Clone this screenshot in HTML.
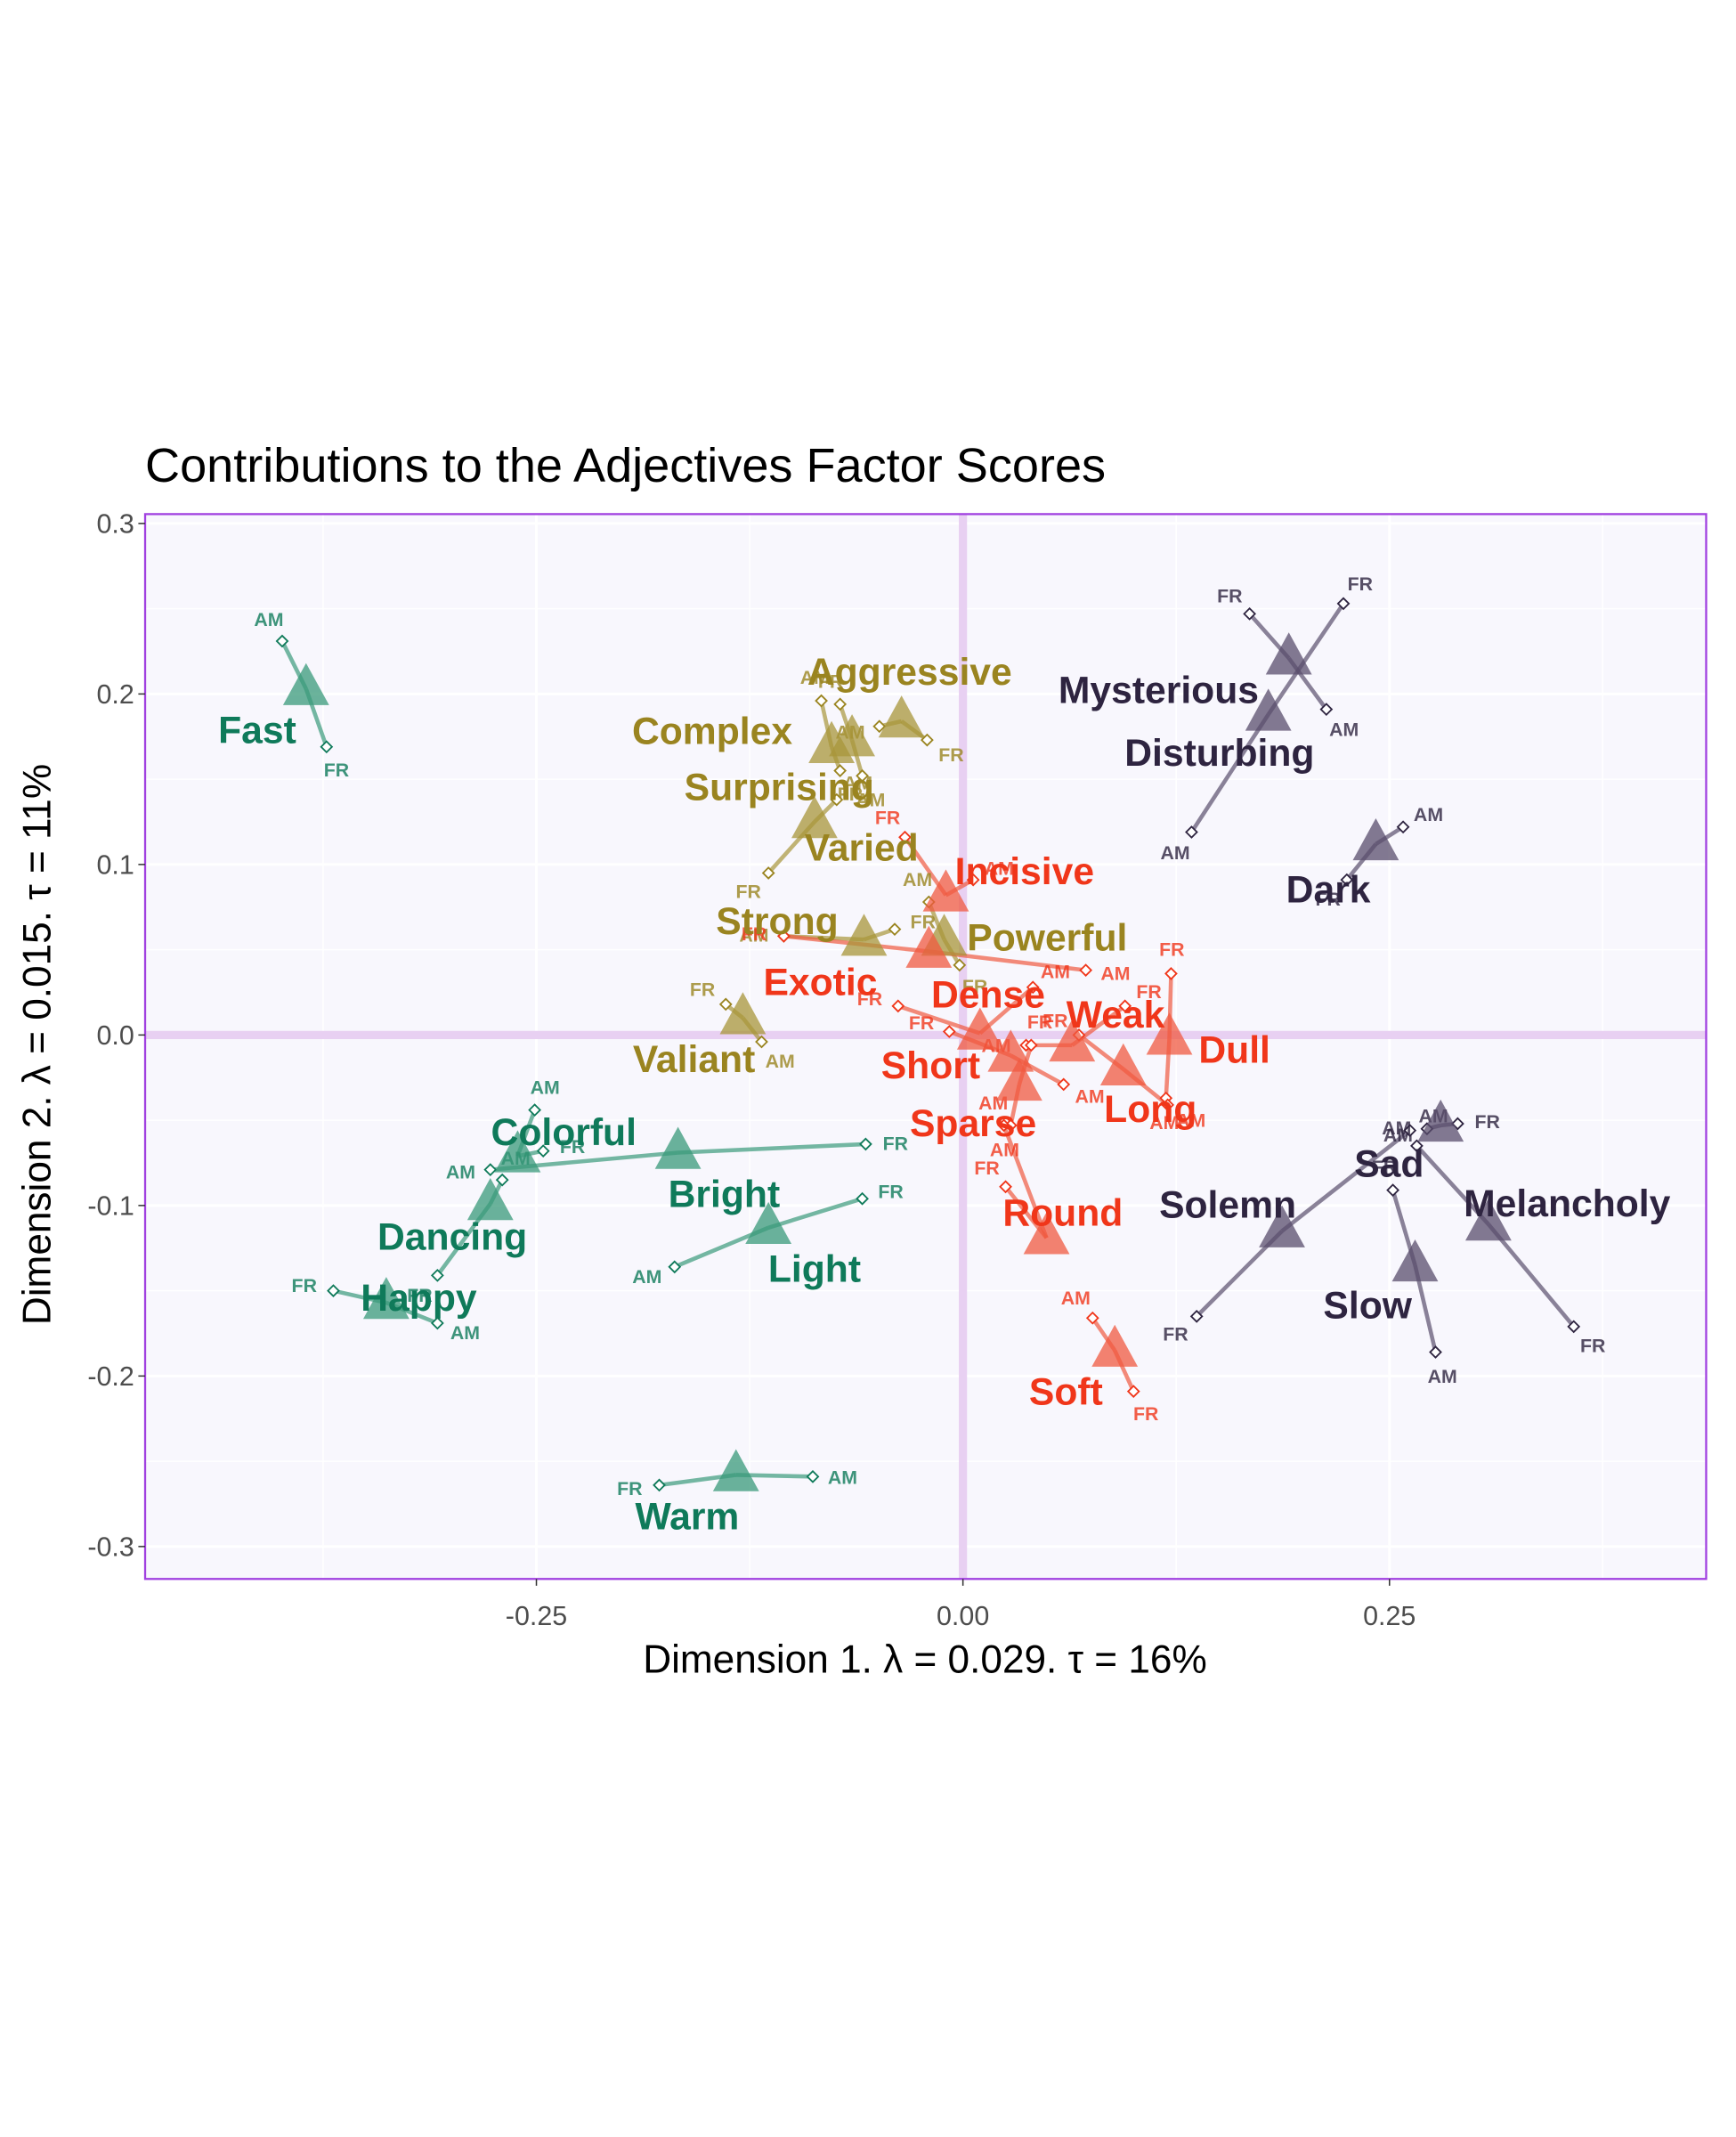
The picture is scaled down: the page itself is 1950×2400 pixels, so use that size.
<!DOCTYPE html>
<html><head><meta charset="utf-8"><style>
html,body{margin:0;padding:0;background:#fff}
svg{display:block}
text{font-family:"Liberation Sans",Arial,sans-serif}
</style></head><body>
<svg id="chart" width="1950" height="2400" viewBox="0 0 1280 1575.4" xmlns="http://www.w3.org/2000/svg">
<rect x="0" y="0" width="1280" height="1575.4" fill="#fff"/>
<text x="107" y="355" font-size="35.5" fill="#000">Contributions to the Adjectives Factor Scores</text>
<rect x="107" y="379" width="1151" height="785" fill="#f8f7fd"/>
<g id="grid"></g>
<g id="zero"></g>
<g id="marks"></g>
<rect x="107" y="379" width="1151" height="785" fill="none" stroke="#a040e0" stroke-width="1.5"/>
<g id="axes"></g>
<text x="682" y="1233" font-size="29" text-anchor="middle" fill="#000">Dimension 1.   λ = 0.029.  τ = 16%</text>
<text transform="translate(37,770) rotate(-90)" font-size="29" text-anchor="middle" fill="#000">Dimension 2.   λ = 0.015.  τ = 11%</text>
</svg>
<script>
const xTicks = [-0.25, 0, 0.25];
const xTickLabels = ["-0.25", "0.00", "0.25"];
const yTicks = [-0.3, -0.2, -0.1, 0, 0.1, 0.2, 0.3];
const yTickLabels = ["-0.3", "-0.2", "-0.1", "0.0", "0.1", "0.2", "0.3"];
const names = ["Fast","Colorful","Bright","Dancing","Happy","Light","Warm",
 "Aggressive","Complex","Surprising","Varied","Strong","Powerful","Valiant",
 "Incisive","Exotic","Dense","Weak","Short","Dull","Long","Sparse","Round","Soft",
 "Mysterious","Disturbing","Dark","Sad","Solemn","Melancholy","Slow"];
const groups = [0,0,0,0,0,0,0, 1,1,1,1,1,1,1, 2,2,2,2,2,2,2,2,2,2, 3,3,3,3,3,3,3];
const meanX = [-0.385,-0.261,-0.167,-0.277,-0.338,-0.114,-0.133,
 -0.036,-0.077,-0.087,-0.065,-0.058,-0.011,-0.129,
 -0.010,-0.020,0.010,0.064,0.028,0.121,0.094,0.033,0.049,0.089,
 0.191,0.179,0.242,0.280,0.187,0.308,0.265];
const meanY = [0.203,-0.071,-0.069,-0.099,-0.157,-0.113,-0.258,
 0.184,0.169,0.125,0.173,0.056,0.056,0.010,
 0.082,0.049,0.001,-0.006,-0.012,-0.002,-0.020,-0.029,-0.119,-0.185,
 0.221,0.188,0.112,-0.053,-0.115,-0.111,-0.135];
const amX = [-0.399,-0.251,-0.277,-0.270,-0.308,-0.169,-0.088,
 -0.049,-0.083,-0.074,-0.059,-0.105,-0.020,-0.118,
 0.006,0.072,0.041,0.037,0.059,0.119,0.120,0.028,0.024,0.076,
 0.213,0.134,0.258,0.272,0.262,0.266,0.277];
const amY = [0.231,-0.044,-0.079,-0.085,-0.169,-0.136,-0.259,
 0.181,0.196,0.138,0.152,0.058,0.078,-0.004,
 0.091,0.038,0.028,-0.006,-0.029,-0.037,-0.041,-0.053,-0.053,-0.166,
 0.191,0.119,0.122,-0.055,-0.056,-0.065,-0.186];
const frX = [-0.373,-0.246,-0.057,-0.308,-0.369,-0.059,-0.178,
 -0.021,-0.072,-0.114,-0.072,-0.040,-0.002,-0.139,
 -0.034,-0.105,-0.038,0.095,-0.008,0.122,0.068,0.040,0.025,0.100,
 0.168,0.223,0.225,0.290,0.137,0.358,0.252];
const frY = [0.169,-0.068,-0.064,-0.141,-0.150,-0.096,-0.264,
 0.173,0.155,0.095,0.194,0.062,0.041,0.018,
 0.116,0.058,0.017,0.017,0.002,0.036,0.000,-0.006,-0.089,-0.209,
 0.247,0.253,0.091,-0.052,-0.165,-0.171,-0.091];
const labelDX = [-36,34,34,-28,24,34,-36, 6,-88,-26,7,-64,76,-36, 58,-80,6,32,-59,48,20,-34,12,-36, -96,-36,-35,-38,-40,58,-35];
const labelDY = [30,-18,30,24,-4,30,30, -37,-12,-26,79,-14,-2,30, -18,22,-29,-23,7,8,29,28,-19,30, 23,28,33,28,-20,-16,29];

const colors = ["#0f7a5a","#9a8420","#f0361a","#2e2440"];
const ptColors = ["#3a9a7a","#a8963a","#f05a40","#5a4e6c"];
const X = v => 710 + v*1258;
const Y = v => 763 - v*1257;
const NS = "http://www.w3.org/2000/svg";
function mk(tag, attrs, parent, txt){const e=document.createElementNS(NS,tag);for(const k in attrs)e.setAttribute(k,attrs[k]);if(txt!==undefined)e.textContent=txt;parent.appendChild(e);return e;}
const grid=document.getElementById('grid'), zero=document.getElementById('zero'), marks=document.getElementById('marks'), axes=document.getElementById('axes');
for(let v=-0.375; v<=0.376; v+=0.125){const g=mk('line',{x1:X(v),x2:X(v),y1:379,y2:1164,stroke:'#fff','stroke-width':Math.abs((v/0.125)%2)>0.5?1:2},grid);}
for(let v=-0.3; v<=0.301; v+=0.05){const g=mk('line',{x1:107,x2:1258,y1:Y(v),y2:Y(v),stroke:'#fff','stroke-width':Math.round(v*100)%10===0?2:1},grid);}
let z=mk('line',{x1:X(0),x2:X(0),y1:379,y2:1164,stroke:'#e8d0f2','stroke-width':6},zero);


z=mk('line',{x1:107,x2:1258,y1:Y(0),y2:Y(0),stroke:'#e8d0f2','stroke-width':6},zero);


xTicks.forEach((v,i)=>{const t=mk('text',{x:X(v),y:1198,'font-size':20,fill:'#4d4d4d','text-anchor':'middle'},axes,xTickLabels[i]);mk('line',{x1:X(v),x2:X(v),y1:1164,y2:1169,stroke:'#333'},axes);});
yTicks.forEach((v,i)=>{const t=mk('text',{x:99,y:Y(v)+7,'font-size':20,fill:'#4d4d4d','text-anchor':'end'},axes,yTickLabels[i]);mk('line',{x1:102,x2:107,y1:Y(v),y2:Y(v),stroke:'#333'},axes);});
function diamond(x,y,c){return mk('path',{d:`M${x},${y-4}L${x+4},${y}L${x},${y+4}L${x-4},${y}Z`,fill:'#fff',stroke:c,'stroke-width':1.2},marks);}
function sub(x,y,mx,my,txt,c){const dx=x-mx,dy=y-my,l=Math.hypot(dx,dy)||1;const t=mk('text',{x:x+dx/l*22,y:y+dy/l*18+5,'font-size':14,'font-weight':'bold',fill:c,'fill-opacity':0.8,'text-anchor':'middle'},marks,txt);return t;}
names.forEach((n,i)=>{
 const pc=ptColors[groups[i]];
 const mx=X(meanX[i]), my=Y(meanY[i]);
 const l1=mk('line',{x1:X(amX[i]),y1:Y(amY[i]),x2:mx,y2:my,stroke:pc,'stroke-width':3,'stroke-opacity':0.7},marks);
 
 
 const l2=mk('line',{x1:X(frX[i]),y1:Y(frY[i]),x2:mx,y2:my,stroke:pc,'stroke-width':3,'stroke-opacity':0.7},marks);
 
 
});
names.forEach((n,i)=>{
 const c=colors[groups[i]];
 const d1=diamond(X(amX[i]),Y(amY[i]),c);
 
 
 const d2=diamond(X(frX[i]),Y(frY[i]),c);
 
 
 const a=sub(X(amX[i]),Y(amY[i]),X(meanX[i]),Y(meanY[i]),'AM',c);
 
 
 const f=sub(X(frX[i]),Y(frY[i]),X(meanX[i]),Y(meanY[i]),'FR',c);
 
 
});
names.forEach((n,i)=>{
 const pc=ptColors[groups[i]];
 const mx=X(meanX[i]), my=Y(meanY[i]);
 const t=mk('path',{d:`M${mx},${my-19}L${mx+17},${my+12}L${mx-17},${my+12}Z`,fill:pc,'fill-opacity':0.75},marks);
 
 
});
names.forEach((n,i)=>{
 const c=colors[groups[i]];
 const t=mk('text',{x:X(meanX[i])+labelDX[i],y:Y(meanY[i])+labelDY[i]+10,'font-size':28,'font-weight':'bold',fill:c,'text-anchor':'middle'},marks,n);
 
 
});
</script>
</body></html>
